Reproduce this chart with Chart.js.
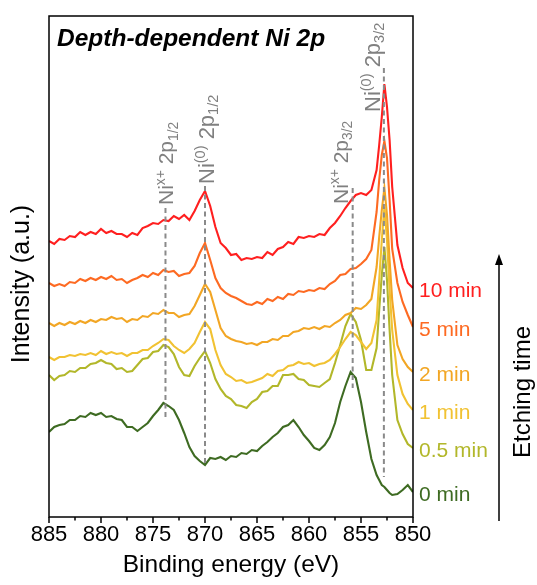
<!DOCTYPE html>
<html>
<head>
<meta charset="utf-8">
<script src="https://cdn.jsdelivr.net/npm/chart.js@4.4.1/dist/chart.umd.min.js"></script>
<style>
  html, body { margin: 0; padding: 0; background: #fff; }
</style>
</head>
<body>
<canvas id="chart" width="537" height="585"></canvas>
<script>
// binding energy grid (eV), denser around the Ni(0) 2p3/2 line
const energy = [
  885, 884.5, 884, 883.5, 883, 882.5, 882, 881.5, 881, 880.5,
  880, 879.5, 879, 878.5, 878, 877.5, 877, 876.5, 876, 875.5,
  875, 874.5, 874, 873.5, 873, 872.5, 872, 871.5, 871, 870.5,
  870, 869.5, 869, 868.5, 868, 867.5, 867, 866.5, 866, 865.5,
  865, 864.5, 864, 863.5, 863, 862.5, 862, 861.5, 861, 860.5,
  860, 859.5, 859, 858.5, 858, 857.5, 857, 856.5, 856, 855.5,
  855, 854.5, 854, 853.5, 853.25, 853, 852.75, 852.5, 852.25, 852,
  851.5, 851, 850.5, 850
];

// stacked intensities (a.u.) per etching time
const etch10 = [
  276, 273, 278, 277, 281, 280, 285, 282, 285, 283,
  288, 284, 286, 283, 283, 280, 284, 282, 289, 291,
  294, 293, 297, 296, 301, 298, 302, 297, 306, 317,
  326, 311, 290, 274, 269, 262, 263, 257, 259, 258,
  260, 259, 265, 262, 268, 270, 275, 273, 280, 279,
  281, 280, 283, 282, 289, 294, 301, 309, 316, 322,
  324, 322, 327, 347, 372, 400, 433, 410, 377, 330,
  272, 249, 234, 229
];
const etch5 = [
  234, 231, 233, 231, 235, 234, 238, 236, 239, 237,
  240, 238, 241, 237, 238, 234, 237, 239, 242, 240,
  244, 242, 247, 245, 246, 241, 243, 244, 251, 264,
  274, 257, 239, 229, 224, 221, 219, 216, 213, 212,
  215, 213, 218, 216, 220, 218, 223, 222, 226, 225,
  227, 226, 229, 228, 233, 236, 242, 243, 248, 249,
  253, 258, 267, 305, 337, 362, 376, 359, 317, 268,
  234, 215, 202, 190
];
const etch2 = [
  194, 191, 194, 192, 195, 193, 196, 194, 197, 195,
  198, 197, 200, 198, 199, 195, 198, 197, 201, 200,
  204, 203, 207, 204, 204, 200, 202, 203, 211, 222,
  233, 225, 207, 189, 181, 178, 176, 175, 173, 174,
  172, 175, 175, 178, 177, 181, 181, 185, 186, 189,
  188, 190, 188, 191, 190, 194, 197, 202, 204, 209,
  208, 212, 218, 250, 280, 307, 329, 302, 257, 217,
  172, 158, 150, 145
];
const etch1 = [
  160, 157, 160, 160, 162, 161, 163, 162, 164, 162,
  166, 163, 165, 163, 164, 161, 164, 164, 167, 167,
  171, 174, 178, 177, 171, 167, 164, 168, 174, 185,
  195, 188, 167, 152, 143, 140, 136, 137, 134, 135,
  137, 139, 143, 141, 146, 147, 151, 152, 155, 153,
  154, 151, 153, 154, 157, 163, 170, 178, 185, 182,
  175, 168, 174, 197, 237, 277, 310, 277, 227, 187,
  142, 123, 113, 107
];
const etch05 = [
  142, 137, 141, 142, 146, 145, 149, 149, 153, 154,
  157, 154, 153, 148, 149, 145, 146, 152, 158, 159,
  165, 166, 172, 170, 163, 150, 142, 141, 151, 159,
  166, 154, 138, 128, 121, 118, 112, 111, 109, 115,
  118, 125, 126, 131, 131, 142, 142, 143, 138, 137,
  132, 131, 130, 134, 138, 154, 172, 191, 203, 195,
  177, 147, 147, 169, 207, 242, 270, 237, 187, 142,
  97, 83, 73, 69
];
const etch0 = [
  85, 90, 92, 93, 97, 97, 101, 100, 104, 102,
  104, 100, 101, 98, 97, 90, 90, 86, 90, 94,
  101, 107, 114, 111, 107, 97, 84, 70, 61, 56,
  52, 59, 58, 60, 57, 61, 60, 64, 63, 67,
  66, 71, 75, 80, 84, 90, 92, 97, 90, 82,
  76, 69, 67, 72, 80, 94, 115, 131, 145, 139,
  115, 85, 58, 42, 37, 32, 30, 27, 24, 22,
  23, 27, 32, 25
];

const series = [etch10, etch5, etch2, etch1, etch05, etch0];
const times = ["10 min", "5 min", "2 min", "1 min", "0.5 min", "0 min"];
const colors = ["#ff1f1f", "#fd6a22", "#f2a624", "#f1c232", "#b2b72a", "#3e6b22"];

// reference lines: Ni(x+) 2p1/2, Ni(0) 2p1/2, Ni(x+) 2p3/2, Ni(0) 2p3/2
const peakEnergy = [873.8, 870.0, 855.8, 852.8];
const peakTop = [309, 331, 329, 449];
const peakBottom = [97, 52, 129, 40];

const xTicks = [885, 880, 875, 870, 865, 860, 855, 850];

const FONT = "'Liberation Sans', Arial, sans-serif";

// label pieces: [text, shift] where 1 = superscript, -1 = subscript
const peakLabels = [
  { parts: [["Ni", 0], ["x+", 1], [" 2p", 0], ["1/2", -1]], dx: 8, dy: -3, size: 21 },
  { parts: [["Ni", 0], ["(0)", 1], [" 2p", 0], ["1/2", -1]], dx: 9, dy: -2, size: 22 },
  { parts: [["Ni", 0], ["x+", 1], [" 2p", 0], ["3/2", -1]], dx: -5, dy: 16, size: 21 },
  { parts: [["Ni", 0], ["(0)", 1], [" 2p", 0], ["3/2", -1]], dx: -4, dy: 44, size: 22 }
];

const datasets = [];
peakEnergy.forEach((e, i) => {
  datasets.push({
    data: [{ x: e, y: peakTop[i] }, { x: e, y: peakBottom[i] }],
    borderColor: "#8a8a8a",
    borderWidth: 2,
    borderDash: [5, 3.5],
    pointRadius: 0
  });
});
series.forEach((s, i) => {
  datasets.push({
    label: times[i],
    data: s.map((v, k) => ({ x: energy[k], y: v })),
    borderColor: colors[i],
    borderWidth: 2.1,
    pointRadius: 0
  });
});

function drawRich(ctx, parts, x, y, size) {
  ctx.save();
  ctx.translate(x, y);
  ctx.rotate(-Math.PI / 2);
  ctx.textBaseline = "alphabetic";
  ctx.textAlign = "left";
  let u = 0;
  parts.forEach(([t, shift]) => {
    const fs = shift ? size * 0.66 : size;
    ctx.font = fs + "px " + FONT;
    const v = shift === 1 ? -size * 0.42 : shift === -1 ? size * 0.2 : 0;
    ctx.fillText(t, u, v);
    u += ctx.measureText(t).width;
  });
  ctx.restore();
}

const decorations = {
  id: "decorations",
  afterDraw(chart) {
    const ctx = chart.ctx;
    const a = chart.chartArea;
    const xs = chart.scales.x, ys = chart.scales.y;

    // frame
    ctx.save();
    ctx.strokeStyle = "#000";
    ctx.lineWidth = 1.5;
    ctx.strokeRect(a.left, a.top, a.right - a.left, a.bottom - a.top);

    // major and minor ticks on the energy axis
    for (let e = 850; e <= 885; e += 2.5) {
      const px = xs.getPixelForValue(e);
      const len = e % 5 === 0 ? 6 : 3.5;
      ctx.beginPath();
      ctx.moveTo(px, a.bottom);
      ctx.lineTo(px, a.bottom + len);
      ctx.stroke();
    }

    // title
    ctx.fillStyle = "#000";
    ctx.font = "italic bold 24.5px " + FONT;
    ctx.textBaseline = "alphabetic";
    ctx.textAlign = "left";
    ctx.fillText("Depth-dependent Ni 2p", 57, 46);

    // intensity axis title
    ctx.save();
    ctx.translate(29, 284);
    ctx.rotate(-Math.PI / 2);
    ctx.font = "25px " + FONT;
    ctx.textAlign = "center";
    ctx.fillText("Intensity (a.u.)", 0, 0);
    ctx.restore();

    // peak annotations
    ctx.fillStyle = "#808080";
    peakLabels.forEach((lab, i) => {
      const x = xs.getPixelForValue(peakEnergy[i]) + lab.dx;
      const y = ys.getPixelForValue(peakTop[i]) + lab.dy;
      drawRich(ctx, lab.parts, x, y, lab.size);
    });

    // etching time labels at the end of each trace
    ctx.font = "21px " + FONT;
    ctx.textBaseline = "middle";
    series.forEach((s, i) => {
      ctx.fillStyle = colors[i];
      ctx.fillText(times[i], a.right + 6, ys.getPixelForValue(s[s.length - 1]) + 3);
    });

    // etching time arrow
    ctx.strokeStyle = "#000";
    ctx.fillStyle = "#000";
    ctx.lineWidth = 1.5;
    ctx.beginPath();
    ctx.moveTo(499, 521);
    ctx.lineTo(499, 262);
    ctx.stroke();
    ctx.beginPath();
    ctx.moveTo(499, 254);
    ctx.lineTo(495, 265);
    ctx.lineTo(503, 265);
    ctx.closePath();
    ctx.fill();

    ctx.translate(530, 392);
    ctx.rotate(-Math.PI / 2);
    ctx.font = "24px " + FONT;
    ctx.textAlign = "center";
    ctx.textBaseline = "alphabetic";
    ctx.fillText("Etching time", 0, 0);
    ctx.restore();
  }
};

new Chart(document.getElementById("chart"), {
  type: "line",
  data: { datasets },
  options: {
    responsive: false,
    animation: false,
    layout: { padding: { top: 16, right: 124, left: 0, bottom: 0 } },
    plugins: { legend: { display: false }, tooltip: { enabled: false } },
    elements: { point: { radius: 0 }, line: { tension: 0 } },
    scales: {
      x: {
        type: "linear",
        reverse: true,
        min: 850,
        max: 885,
        afterFit: s => { s.height = 68; },
        afterBuildTicks: s => { s.ticks = xTicks.map(v => ({ value: v })); },
        grid: { display: false, drawTicks: false },
        border: { display: false },
        ticks: {
          color: "#000",
          padding: 5,
          maxRotation: 0,
          autoSkip: false,
          font: { family: FONT, size: 22 }
        },
        title: {
          display: true,
          text: "Binding energy (eV)",
          color: "#000",
          font: { family: FONT, size: 24.5 },
          padding: { top: 0, bottom: 5 }
        }
      },
      y: {
        min: 0,
        max: 501,
        afterFit: s => { s.width = 49; },
        grid: { display: false, drawTicks: false },
        border: { display: false },
        ticks: { display: false },
        title: { display: false }
      }
    }
  },
  plugins: [decorations]
});
</script>
</body>
</html>
